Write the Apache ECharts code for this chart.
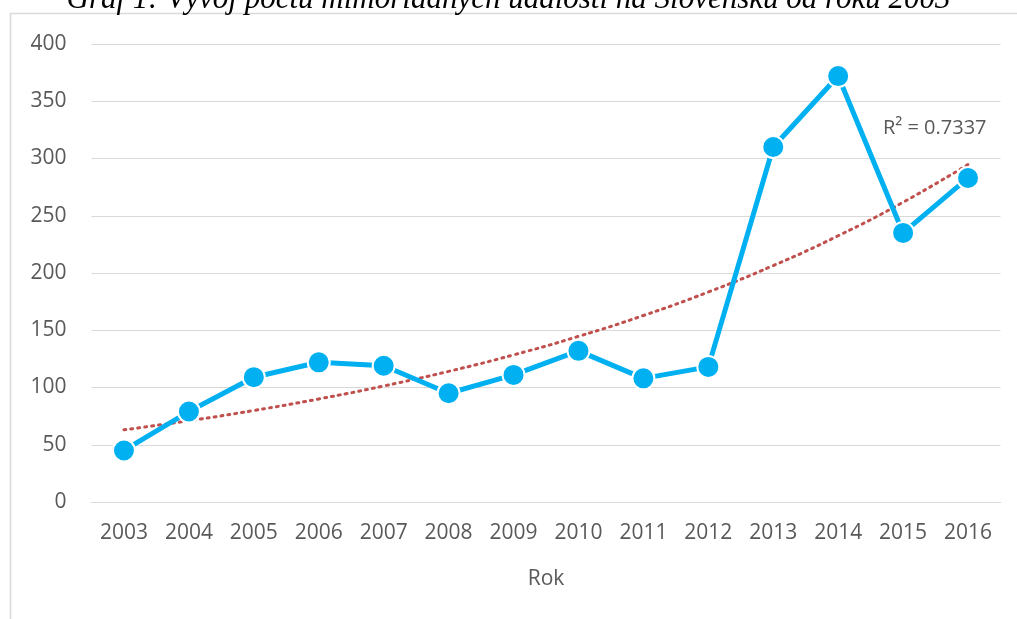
<!DOCTYPE html>
<html>
<head>
<meta charset="utf-8">
<script src="https://cdn.jsdelivr.net/npm/echarts@6/dist/echarts.min.js"></script>
<style>
  html, body { margin: 0; padding: 0; background: #fff; }
  #chart { width: 1017px; height: 619px; }
</style>
</head>
<body>
<div id="chart"></div>
<script>
// data
var years = ['2003', '2004', '2005', '2006', '2007', '2008', '2009', '2010', '2011', '2012', '2013', '2014', '2015', '2016'];
var events = [45, 79, 109, 122, 119, 95, 111, 132, 108, 118, 310, 372, 235, 283];
var yTicks = [0, 50, 100, 150, 200, 250, 300, 350, 400];
var rSquaredText = 'R² = 0.7337';

// exponential trendline like Excel does it: fit ln(y) = ln(a) + b*x
function expTrend(vals) {
    var n = vals.length, sx = 0, sy = 0, sxx = 0, sxy = 0;
    for (var i = 0; i < n; i++) {
        var x = i + 1, ly = Math.log(vals[i]);
        sx += x; sy += ly; sxx += x * x; sxy += x * ly;
    }
    var b = (n * sxy - sx * sy) / (n * sxx - sx * sx);
    var la = (sy - b * sx) / n;
    var out = [];
    for (var j = 0; j < n; j++) out.push(+Math.exp(la + b * (j + 1)).toFixed(2));
    return out;
}
var trend = expTrend(events);

var dom = document.getElementById('chart');
var myChart = echarts.init(dom, null, { renderer: 'canvas' });

var labelFont = '"Open Sans", "Noto Sans", sans-serif';

var option = {
    animation: false,
    backgroundColor: '#fff',
    graphic: [
        {
            type: 'rect',
            shape: { x: 10.5, y: 13.5, width: 1020, height: 620 },
            style: { fill: 'none', stroke: '#d9d9d9', lineWidth: 1.5 },
            silent: true
        },
        {
            type: 'text',
            left: 'center',
            top: -16,
            style: {
                text: 'Graf 1: Vývoj počtu mimoriadnych udalostí na Slovensku od roku 2003',
                font: 'italic 31px "Liberation Serif", "Times New Roman", serif',
                fill: '#000'
            }
        },
        {
            type: 'text',
            left: 883,
            top: 118,
            style: {
                text: rSquaredText,
                font: '20px ' + labelFont,
                fill: '#595959'
            }
        }
    ],
    grid: { left: 91.5, right: 16.5, top: 44, bottom: 117 },
    xAxis: {
        type: 'category',
        data: years,
        boundaryGap: true,
        name: 'Rok',
        nameLocation: 'middle',
        nameGap: 67,
        nameTextStyle: { color: '#595959', fontSize: 21, fontFamily: labelFont },
        axisLine: { show: true, lineStyle: { color: '#d9d9d9', width: 1 } },
        axisTick: { show: false },
        axisLabel: { color: '#595959', fontSize: 21, fontFamily: labelFont, margin: 21 }
    },
    yAxis: {
        type: 'value',
        min: yTicks[0],
        max: yTicks[yTicks.length - 1],
        interval: 50,
        axisLine: { show: false },
        axisTick: { show: false },
        axisLabel: { color: '#595959', fontSize: 21, fontFamily: labelFont, margin: 25 },
        splitLine: { lineStyle: { color: '#d9d9d9', width: 1 } }
    },
    series: [
        {
            name: 'trend',
            type: 'line',
            data: trend,
            smooth: true,
            symbol: 'none',
            lineStyle: { color: '#c0504d', width: 3, type: [2, 5], cap: 'round' },
            z: 1
        },
        {
            name: 'udalosti',
            type: 'line',
            data: events,
            symbol: 'circle',
            symbolSize: 22,
            itemStyle: { color: '#00b0f0', borderColor: '#fff', borderWidth: 2 },
            lineStyle: { color: '#00b0f0', width: 5 },
            z: 2
        }
    ]
};

if (option && typeof option === 'object') {
    myChart.setOption(option);
}
window.addEventListener('resize', myChart.resize);
</script>
</body>
</html>
